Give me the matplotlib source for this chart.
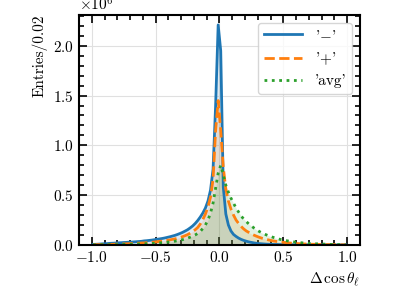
import numpy as np
import matplotlib
matplotlib.use("Agg")
import matplotlib.pyplot as plt
from matplotlib.ticker import AutoMinorLocator

plt.rcParams.update({
    "font.family": "serif",
    "font.serif": ["cmr10"],
    "mathtext.fontset": "cm",
    "axes.formatter.use_mathtext": True,
    "font.size": 11,
    "axes.linewidth": 1.5,
})

# bin centres, width 0.02 over [-1, 1]
bin_centres = np.arange(-0.99, 1.0, 0.02)

# entries per bin, in units of 1e6
minus_counts = [
    .005, .006, .007, .009, .011, .012, .014, .016, .017, .019,
    .021, .022, .024, .025, .027, .028, .030, .032, .034, .036,
    .040, .042, .045, .048, .052, .056, .060, .064, .069, .075,
    .081, .088, .095, .104, .114, .125, .138, .152, .170, .190,
    .215, .245, .280, .320, .370, .440, .550, .760, 1.40, 2.21,
    1.95, .580, .310, .200, .140, .105, .085, .068, .055, .045,
    .037, .030, .025, .020, .016, .013, .011, .009, .007, .006,
    .005, .004, .004, .003, .003, .002, .002, .002, .001, .001,
    .001, .001, .001, .001, .001, .001, .000, .000, .000, .000,
    .000, .000, .000, .000, .000, .000, .000, .000, .000, .000,
]
plus_counts = [
    .002, .002, .003, .003, .004, .004, .005, .005, .006, .007,
    .008, .009, .010, .011, .012, .013, .014, .016, .017, .019,
    .020, .022, .024, .026, .029, .032, .035, .038, .042, .046,
    .050, .055, .060, .066, .074, .082, .092, .103, .117, .133,
    .152, .175, .210, .255, .310, .380, .480, .660, 1.15, 1.45,
    1.15, .780, .560, .440, .360, .300, .250, .215, .185, .160,
    .140, .125, .110, .098, .087, .077, .068, .061, .054, .048,
    .043, .038, .034, .030, .027, .024, .021, .019, .017, .015,
    .013, .012, .010, .009, .008, .007, .006, .006, .005, .004,
    .004, .003, .003, .003, .002, .002, .002, .001, .001, .001,
]
avg_counts = [
    .001, .001, .001, .002, .002, .002, .002, .003, .003, .003,
    .004, .004, .005, .005, .006, .006, .007, .008, .009, .010,
    .011, .012, .013, .014, .016, .018, .020, .022, .024, .027,
    .030, .033, .037, .041, .046, .052, .059, .067, .077, .088,
    .100, .115, .135, .165, .200, .250, .320, .420, .570, .720,
    .800, .700, .600, .530, .470, .420, .370, .330, .290, .260,
    .235, .210, .190, .170, .152, .136, .122, .110, .099, .089,
    .080, .072, .064, .057, .051, .046, .041, .036, .032, .029,
    .026, .023, .020, .018, .016, .014, .012, .011, .010, .009,
    .008, .007, .006, .005, .004, .004, .003, .003, .002, .002,
]

series = [
    ("'$-$'", minus_counts, "C0", "-"),
    ("'$+$'", plus_counts, "C1", "--"),
    ("'avg'", avg_counts, "C2", ":"),
]

fig = plt.figure(figsize=(3.99, 2.99), dpi=100)
ax = fig.add_axes([0.198, 0.181, 0.704, 0.769])

for label, counts, color, ls in series:
    y = np.array(counts) * 1e6
    ax.plot(bin_centres, y, color=color, ls=ls, lw=2, label=label)
    ax.fill_between(bin_centres, y, color=color, alpha=0.14, lw=0)

ax.set_xlim(-1.1, 1.1)
ax.set_ylim(0, 2.31e6)
ax.xaxis.set_minor_locator(AutoMinorLocator(5))
ax.yaxis.set_minor_locator(AutoMinorLocator(5))
ax.tick_params(which="both", direction="in", top=True, right=True, width=1.2)
ax.tick_params(which="major", length=6)
ax.tick_params(which="minor", length=3.5)
ax.grid(True, color="0.88", lw=0.8)
ax.set_axisbelow(True)

ax.set_xlabel(r"$\Delta\,\cos\theta_\ell$", loc="right")
ax.set_ylabel("Entries/0.02", loc="top")
ax.legend(loc="upper right", frameon=True, fancybox=True, handlelength=2.5)

fig.savefig("out.png", dpi=100)
